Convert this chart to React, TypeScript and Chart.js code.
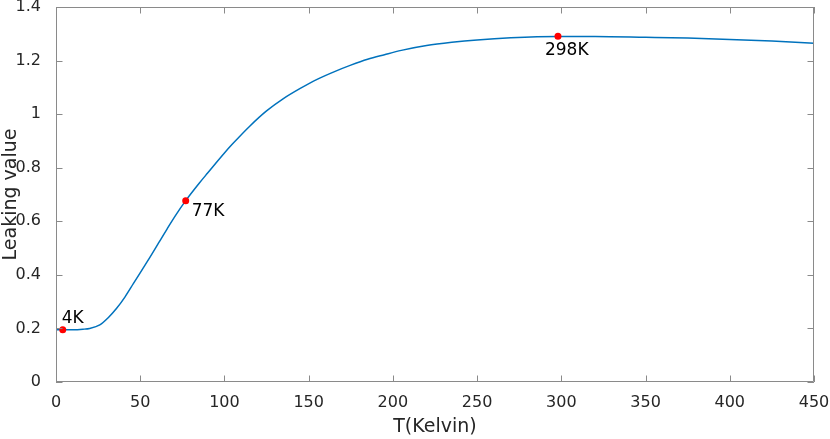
import { useEffect, useRef } from "react";
import { Chart, registerables } from "chart.js";
import type { ChartConfiguration, Plugin } from "chart.js";

Chart.register(...registerables);

// curve
const tempK = [
  0, 4, 10, 16, 20, 26, 31, 36, 41, 46, 51, 56, 61, 66, 71, 77, 85, 90, 100,
  105, 115, 125, 135, 145, 155, 165, 175, 185, 195, 205, 220, 235, 250, 270,
  298, 320, 350, 375, 400, 425, 450,
];
const leakValue = [
  0.195, 0.195, 0.195, 0.197, 0.2, 0.213, 0.24, 0.275, 0.318, 0.368, 0.418,
  0.468, 0.52, 0.572, 0.622, 0.677, 0.742, 0.78, 0.855, 0.89, 0.955, 1.012,
  1.058, 1.096, 1.13, 1.158, 1.183, 1.205, 1.222, 1.238, 1.256, 1.268, 1.277,
  1.285, 1.29, 1.29, 1.287, 1.284, 1.279, 1.273, 1.265,
];

// marked temperatures
const markTemp = [4, 77, 298];
const markValue = [0.195, 0.677, 1.291];
const markLabels = ["4K", "77K", "298K"];

const xTicks = [0, 50, 100, 150, 200, 250, 300, 350, 400, 450];
const yTicks = [0, 0.2, 0.4, 0.6, 0.8, 1, 1.2, 1.4];

const FONT = "'DejaVu Sans', sans-serif";

// box round the axes with MATLAB style inward ticks, plus the point labels
const boxPlugin: Plugin<"line"> = {
  id: "matlabBox",
  afterDatasetsDraw(chart) {
    const { ctx, chartArea: a, scales } = chart;
    const xs = scales.x;
    const ys = scales.y;
    const tl = 6.5;
    ctx.save();
    ctx.strokeStyle = "#8a8a8a";
    ctx.lineWidth = 1;
    ctx.beginPath();
    ctx.rect(a.left + 0.5, a.top + 0.5, a.right - a.left - 1, a.bottom - a.top - 1);
    for (const v of xTicks) {
      const px = Math.round(xs.getPixelForValue(v)) + 0.5;
      ctx.moveTo(px, a.bottom);
      ctx.lineTo(px, a.bottom - tl);
      ctx.moveTo(px, a.top);
      ctx.lineTo(px, a.top + tl);
    }
    for (const v of yTicks) {
      const py = Math.round(ys.getPixelForValue(v)) + 0.5;
      ctx.moveTo(a.left, py);
      ctx.lineTo(a.left + tl, py);
      ctx.moveTo(a.right, py);
      ctx.lineTo(a.right - tl, py);
    }
    ctx.stroke();

    const offsets = [
      [-1, -7],
      [6, 15],
      [-13, 19],
    ];
    ctx.fillStyle = "#000";
    ctx.font = `17px ${FONT}`;
    ctx.textBaseline = "alphabetic";
    ctx.textAlign = "left";
    markLabels.forEach((t, i) => {
      const px = xs.getPixelForValue(markTemp[i]);
      const py = ys.getPixelForValue(markValue[i]);
      ctx.fillText(t, px + offsets[i][0], py + offsets[i][1]);
    });
    ctx.restore();
  },
};

const App = () => {
  const canvasRef = useRef<HTMLCanvasElement | null>(null);

  useEffect(() => {
    if (!canvasRef.current) return;

    const config: ChartConfiguration<"line"> = {
      type: "line",
      data: {
        datasets: [
          {
            label: "leak",
            data: tempK.map((t, i) => ({ x: t, y: leakValue[i] })),
            borderColor: "#0072BD",
            borderWidth: 1.5,
            pointRadius: 0,
            cubicInterpolationMode: "monotone",
            order: 2,
          },
          {
            label: "marks",
            data: markTemp.map((t, i) => ({ x: t, y: markValue[i] })),
            showLine: false,
            pointRadius: 3.5,
            pointBackgroundColor: "#ff0000",
            pointBorderWidth: 0,
            order: 1,
          },
        ],
      },
      options: {
        animation: false,
        responsive: true,
        maintainAspectRatio: false,
        layout: { padding: { left: 0, right: 16, top: 7, bottom: 0 } },
        plugins: {
          legend: { display: false },
          tooltip: { enabled: false },
        },
        scales: {
          x: {
            type: "linear",
            min: 0,
            max: 450,
            afterFit: (s) => {
              s.height = 57;
              s.paddingLeft = 0;
              s.paddingRight = 0;
            },
            afterBuildTicks: (s) => {
              s.ticks = xTicks.map((v) => ({ value: v }));
            },
            grid: { display: false },
            border: { display: false },
            ticks: {
              padding: 3,
              color: "#262626",
              font: { family: FONT, size: 16 },
              maxRotation: 0,
            },
            title: {
              display: true,
              text: "T(Kelvin)",
              color: "#262626",
              font: { family: FONT, size: 19 },
              padding: { top: 0, bottom: 1 },
            },
          },
          y: {
            type: "linear",
            min: 0,
            max: 1.4,
            afterFit: (s) => {
              s.width = 56;
              s.paddingTop = 0;
              s.paddingBottom = 0;
            },
            afterBuildTicks: (s) => {
              s.ticks = yTicks.map((v) => ({ value: v }));
            },
            grid: { display: false },
            border: { display: false },
            ticks: {
              padding: 7,
              color: "#262626",
              font: { family: FONT, size: 16 },
              callback: (v) => String(v),
            },
            title: {
              display: true,
              text: "Leaking value",
              color: "#262626",
              font: { family: FONT, size: 19 },
              padding: { top: 0, bottom: 0 },
            },
          },
        },
      },
      plugins: [boxPlugin],
    };

    const chart = new Chart(canvasRef.current, config);
    return () => chart.destroy();
  }, []);

  return (
    <div
      style={{
        position: "fixed",
        left: 0,
        top: 0,
        width: 830,
        height: 439,
        background: "#fff",
      }}
    >
      <canvas ref={canvasRef} />
    </div>
  );
};

export default App;
